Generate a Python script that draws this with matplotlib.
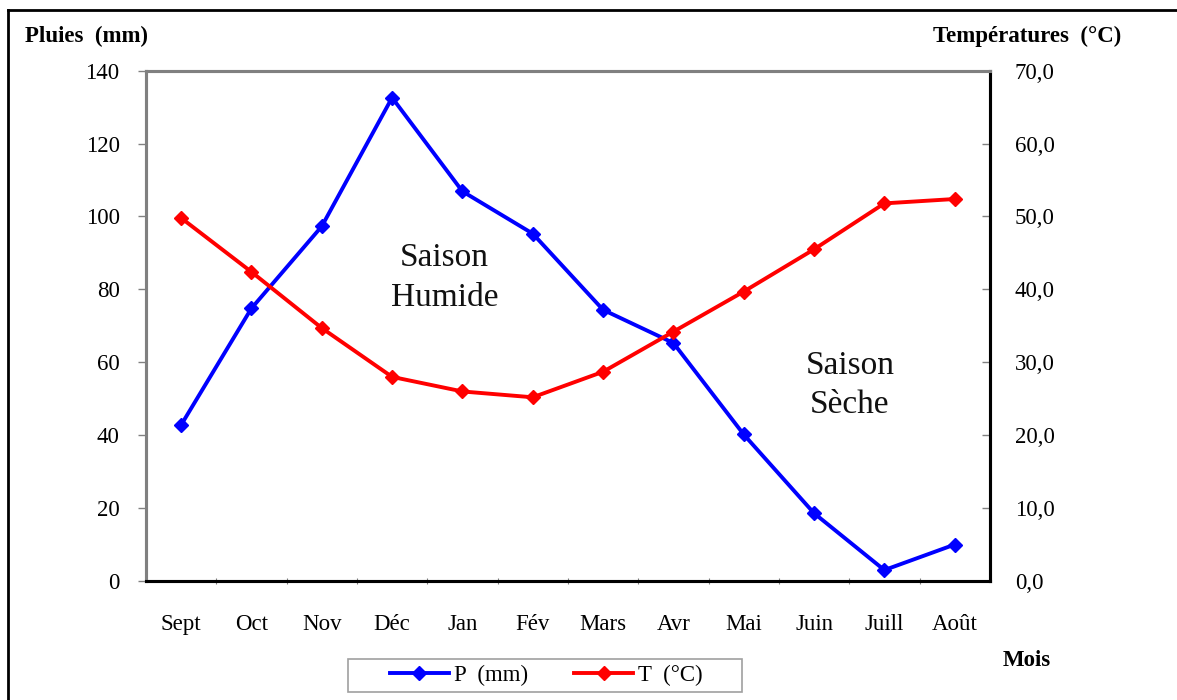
import matplotlib
matplotlib.use("Agg")
import matplotlib.pyplot as plt
from matplotlib.lines import Line2D
from matplotlib.patches import Rectangle
from matplotlib.ticker import FixedLocator, FuncFormatter

plt.rcParams["font.family"] = ["Liberation Serif", "DejaVu Serif"]

# Monthly rainfall and temperature, hydrological year Sept -> Août
mois = ["Sept", "Oct", "Nov", "Déc", "Jan", "Fév", "Mars", "Avr",
        "Mai", "Juin", "Juill", "Août"]
pluies = [42.8, 74.8, 97.3, 132.6, 106.9, 95.3, 74.4, 65.3, 40.2, 18.6, 3.0, 10.0]
temperatures = [49.8, 42.4, 34.7, 28.0, 26.0, 25.2, 28.7, 34.2, 39.7, 45.5, 51.8, 52.4]

fig = plt.figure(figsize=(11.77, 7.0), dpi=100)
ax = fig.add_axes([0.124, 0.170, 0.717, 0.729])
ax2 = ax.twinx()

x = list(range(len(mois)))
ax.plot(x, pluies, color="#0000ff", lw=2.8, marker="D", ms=7.5, label="P  (mm)", zorder=3)
ax2.plot(x, temperatures, color="#ff0000", lw=2.8, marker="D", ms=7.5, label="T  (°C)", zorder=3)

ax.set_xlim(-0.5, len(mois) - 0.5)
ax.set_ylim(0, 140)
ax2.set_ylim(0, 70)
ax.set_yticks(range(0, 141, 20))
ax2.set_yticks(range(0, 71, 10))
ax2.yaxis.set_major_formatter(FuncFormatter(lambda v, _: f"{v:.1f}".replace(".", ",")))

# month labels centred in each category, tick marks on category boundaries
ax.set_xticks(x)
ax.set_xticklabels(mois)
ax.xaxis.set_minor_locator(FixedLocator([i + 0.5 for i in range(len(mois) - 1)]))
ax.tick_params(axis="x", which="major", length=0, pad=24, labelsize=16.5)
ax.tick_params(axis="x", which="minor", length=5, width=0.8, direction="inout", color="#808080")
ax.tick_params(axis="y", direction="out", length=6, width=1, color="#808080", pad=13, labelsize=16.5)
ax2.tick_params(axis="y", direction="in", length=6, width=1, color="#808080", pad=18, labelsize=16.5)

for a in (ax, ax2):
    for side in ("left", "top"):
        a.spines[side].set_color("#808080")
        a.spines[side].set_linewidth(2.2)
    for side in ("bottom", "right"):
        a.spines[side].set_color("black")
        a.spines[side].set_linewidth(2.2)

ax.text(0.354, 0.594, "Saison\nHumide", transform=ax.transAxes, ha="center", va="center",
        fontsize=24, linespacing=1.38, color="#111111")
ax.text(0.834, 0.384, "Saison\nSèche", transform=ax.transAxes, ha="center", va="center",
        fontsize=24, linespacing=1.38, color="#111111")

fig.text(0.021, 0.948, "Pluies  (mm)", fontsize=16.5, fontweight="bold", va="center", ha="left")
fig.text(0.953, 0.948, "Températures  (°C)", fontsize=16.5, fontweight="bold", va="center", ha="right")
fig.text(0.872, 0.057, "Mois", fontsize=16.5, fontweight="bold", va="center", ha="center")

# legend box drawn separately so it can be wider than its contents
fig.add_artist(Rectangle((0.2957, 0.0114), 0.3348, 0.0472, transform=fig.transFigure,
                         fill=False, edgecolor="#a0a0a0", lw=1.2))
handles = [ax.get_lines()[0], ax2.get_lines()[0]]
fig.legend(handles, [h.get_label() for h in handles], loc="center",
           bbox_to_anchor=(0.464, 0.035), ncol=2, frameon=False,
           fontsize=16.5, handlelength=2.6, columnspacing=2.0, handletextpad=0.2)

# outer frame around the figure (top and left edges)
fig.add_artist(Line2D([0.0068, 1.0], [0.986, 0.986], transform=fig.transFigure, color="black", lw=2))
fig.add_artist(Line2D([0.0068, 0.0068], [0.0, 0.986], transform=fig.transFigure, color="black", lw=2))

fig.savefig("out.png", dpi=100)
